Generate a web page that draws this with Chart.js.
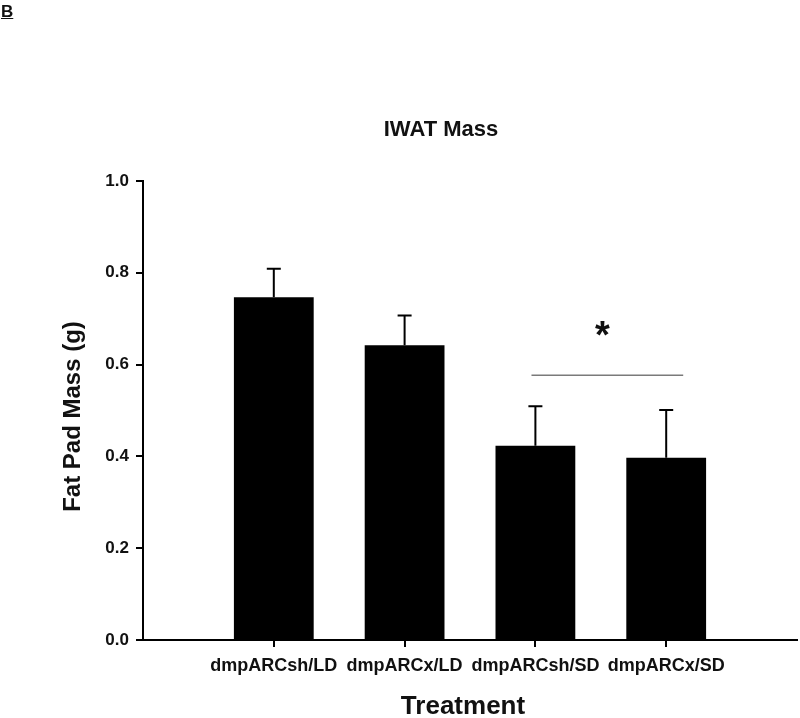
<!DOCTYPE html>
<html>
<head>
<meta charset="utf-8">
<script src="https://cdn.jsdelivr.net/npm/chart.js@4/dist/chart.umd.min.js"></script>
<style>
  html, body { margin: 0; padding: 0; background: #fff; }
  #wrap { position: relative; width: 800px; height: 718px; }
  #panel { position: absolute; left: 1px; top: 2px; font: bold 17px "Liberation Sans", Arial, sans-serif; text-decoration: underline; color: #111; }
</style>
</head>
<body>
<div id="wrap">
  <canvas id="iwat-chart" width="800" height="718"></canvas>
  <div id="panel">B</div>
</div>
<script>
const treatments = ['dmpARCsh/LD', 'dmpARCx/LD', 'dmpARCsh/SD', 'dmpARCx/SD'];
const massMean = [0.747, 0.642, 0.423, 0.397];
const massErr = [0.062, 0.065, 0.086, 0.104];
const yTicks = [0.0, 0.2, 0.4, 0.6, 0.8, 1.0];
// significance bracket between the two SD groups
const sigFrom = 2.97, sigTo = 4.13, sigY = 0.577, sigLabel = '*';

const font = '"Liberation Sans", Arial, sans-serif';

const errorBars = {
    id: 'errorBars',
    afterDatasetsDraw(chart) {
        const ctx = chart.ctx;
        const x = chart.scales.x, y = chart.scales.y;
        ctx.save();
        ctx.strokeStyle = '#000';
        ctx.lineWidth = 2;
        massMean.forEach((m, i) => {
            const px = x.getPixelForValue(i + 1);
            const top = y.getPixelForValue(m + massErr[i]);
            ctx.beginPath();
            ctx.moveTo(px, y.getPixelForValue(m));
            ctx.lineTo(px, top);
            ctx.moveTo(px - 7, top);
            ctx.lineTo(px + 7, top);
            ctx.stroke();
        });
        // significance line and star
        ctx.strokeStyle = '#7a7a7a';
        ctx.lineWidth = 1.5;
        ctx.beginPath();
        ctx.moveTo(x.getPixelForValue(sigFrom), y.getPixelForValue(sigY));
        ctx.lineTo(x.getPixelForValue(sigTo), y.getPixelForValue(sigY));
        ctx.stroke();
        ctx.fillStyle = '#111';
        ctx.font = 'bold 38px ' + font;
        ctx.textAlign = 'center';
        ctx.textBaseline = 'middle';
        ctx.fillText(sigLabel, x.getPixelForValue((sigFrom + sigTo) / 2) - 5, y.getPixelForValue(sigY) - 38);

        // titles
        const area = chart.chartArea;
        ctx.fillStyle = '#111';
        ctx.font = 'bold 22px ' + font;
        ctx.fillText('IWAT Mass', 441, 130);
        ctx.font = 'bold 26px ' + font;
        ctx.fillText('Treatment', 463, 707);
        ctx.save();
        ctx.translate(73, (area.top + area.bottom) / 2 + 6);
        ctx.rotate(-Math.PI / 2);
        ctx.font = 'bold 24px ' + font;
        ctx.fillText('Fat Pad Mass (g)', 0, 0);
        ctx.restore();
        ctx.restore();
    }
};

const ctx = document.getElementById('iwat-chart').getContext('2d');
new Chart(ctx, {
    type: 'bar',
    data: {
        datasets: [{
            label: 'IWAT Mass',
            data: massMean.map((v, i) => ({ x: i + 1, y: v })),
            backgroundColor: '#000',
            borderColor: '#000',
            borderWidth: 0,
            barPercentage: 0.61,
            categoryPercentage: 1
        }]
    },
    options: {
        responsive: false,
        animation: false,
        layout: { padding: { top: 181, right: 3, bottom: 0, left: 0 } },
        plugins: { legend: { display: false }, tooltip: { enabled: false } },
        scales: {
            x: {
                type: 'linear',
                min: 0,
                max: 5,
                offset: false,
                afterFit(scale) { scale.height = 78; },
                afterBuildTicks(scale) {
                    scale.ticks = treatments.map((t, i) => ({ value: i + 1 }));
                },
                ticks: {
                    callback: v => treatments[v - 1] || '',
                    color: '#111',
                    font: { family: font, weight: 'bold', size: 18 },
                    padding: 8,
                    maxRotation: 0,
                    autoSkip: false
                },
                grid: { offset: false, drawOnChartArea: false, tickLength: 7, color: '#000', lineWidth: 2 },
                border: { color: '#000', width: 2 }
            },
            y: {
                min: 0,
                max: 1,
                afterFit(scale) { scale.width = 143; },
                afterBuildTicks(scale) {
                    scale.ticks = yTicks.map(v => ({ value: v }));
                },
                ticks: {
                    callback: v => v.toFixed(1),
                    color: '#111',
                    font: { family: font, weight: 'bold', size: 17 },
                    padding: 7
                },
                grid: { drawOnChartArea: false, tickLength: 7, color: '#000', lineWidth: 2 },
                border: { color: '#000', width: 2 }
            }
        }
    },
    plugins: [errorBars]
});
</script>
</body>
</html>
